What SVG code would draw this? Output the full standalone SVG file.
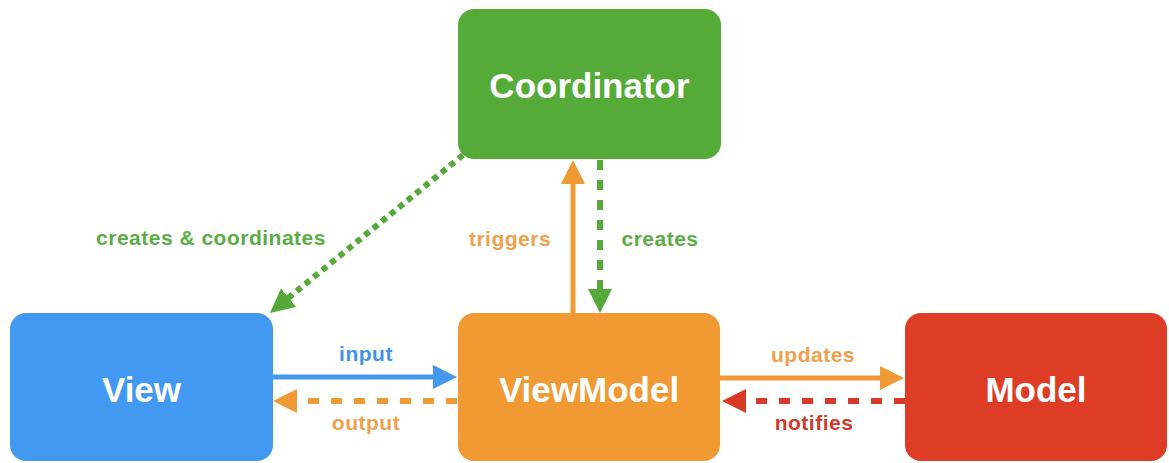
<svg xmlns="http://www.w3.org/2000/svg" width="1169" height="463" viewBox="0 0 1169 463">
  <style>
    .box-text { font-family: "Liberation Sans", Arial, sans-serif; font-weight: bold; font-size: 35px; fill: #ffffff; text-anchor: middle; }
    .label { font-family: "Liberation Sans", Arial, sans-serif; font-weight: bold; font-size: 21px; letter-spacing: 0.5px; text-anchor: middle; }
    .conn { fill: none; stroke-linecap: butt; }
  </style>
  <defs>
    <marker id="head-green" markerUnits="userSpaceOnUse" markerWidth="24" markerHeight="24" refX="2" refY="12" orient="auto">
      <path d="M0,0 L24,12 L0,24 z" fill="#55a93a"/>
    </marker>
    <marker id="head-orange" markerUnits="userSpaceOnUse" markerWidth="24" markerHeight="24" refX="2" refY="12" orient="auto">
      <path d="M0,0 L24,12 L0,24 z" fill="#f09a35"/>
    </marker>
    <marker id="head-blue" markerUnits="userSpaceOnUse" markerWidth="24" markerHeight="24" refX="2" refY="12" orient="auto">
      <path d="M0,0 L24,12 L0,24 z" fill="#4499ee"/>
    </marker>
    <marker id="head-red" markerUnits="userSpaceOnUse" markerWidth="24" markerHeight="24" refX="2" refY="12" orient="auto">
      <path d="M0,0 L24,12 L0,24 z" fill="#d83a27"/>
    </marker>
  </defs>

  <rect width="1169" height="463" fill="#ffffff"/>

  <!-- connectors -->
  <g id="connectors">
    <!-- Coordinator creates & coordinates View -->
    <line class="conn" x1="463" y1="155" x2="287" y2="299" stroke="#55a93a" stroke-width="6" stroke-dasharray="6 5" marker-end="url(#head-green)"/>
    <!-- ViewModel triggers Coordinator -->
    <line class="conn" x1="573" y1="314" x2="573" y2="182" stroke="#f09a35" stroke-width="5" marker-end="url(#head-orange)"/>
    <!-- Coordinator creates ViewModel -->
    <line class="conn" x1="600" y1="160" x2="600" y2="291" stroke="#55a93a" stroke-width="6" stroke-dasharray="10 10" marker-end="url(#head-green)"/>
    <!-- View input -> ViewModel -->
    <line class="conn" x1="272" y1="377" x2="435" y2="377" stroke="#4499ee" stroke-width="5" marker-end="url(#head-blue)"/>
    <!-- ViewModel output -> View -->
    <line class="conn" x1="457" y1="401" x2="295" y2="401" stroke="#f09a35" stroke-width="6" stroke-dasharray="11 12" marker-end="url(#head-orange)"/>
    <!-- ViewModel updates Model -->
    <line class="conn" x1="719" y1="378" x2="882" y2="378" stroke="#f09a35" stroke-width="5" marker-end="url(#head-orange)"/>
    <!-- Model notifies ViewModel -->
    <line class="conn" x1="905" y1="401" x2="744" y2="401" stroke="#d83a27" stroke-width="6" stroke-dasharray="11 12" marker-end="url(#head-red)"/>
  </g>

  <!-- connector labels -->
  <g id="labels">
    <text class="label" x="211" y="245" fill="#5cad45">creates &amp; coordinates</text>
    <text class="label" x="510" y="246" fill="#efa04a">triggers</text>
    <text class="label" x="660" y="246" fill="#5cad45">creates</text>
    <text class="label" x="366" y="361" fill="#3f93e6">input</text>
    <text class="label" x="366" y="430" fill="#efa04a">output</text>
    <text class="label" x="813" y="362" fill="#efa04a">updates</text>
    <text class="label" x="814" y="430" fill="#cc3b2c">notifies</text>
  </g>

  <!-- nodes -->
  <g id="coordinator">
    <rect x="458" y="9" width="263" height="150" rx="16" fill="#55ab37"/>
    <text class="box-text" x="589.5" y="98">Coordinator</text>
  </g>
  <g id="view">
    <rect x="10" y="313" width="263" height="148" rx="16" fill="#4299f1"/>
    <text class="box-text" x="141.5" y="402">View</text>
  </g>
  <g id="viewmodel">
    <rect x="458" y="313" width="262" height="148" rx="16" fill="#f19a33"/>
    <text class="box-text" x="589" y="402">ViewModel</text>
  </g>
  <g id="model">
    <rect x="905" y="313" width="262" height="148" rx="16" fill="#dd3d25"/>
    <text class="box-text" x="1036" y="402">Model</text>
  </g>
</svg>
